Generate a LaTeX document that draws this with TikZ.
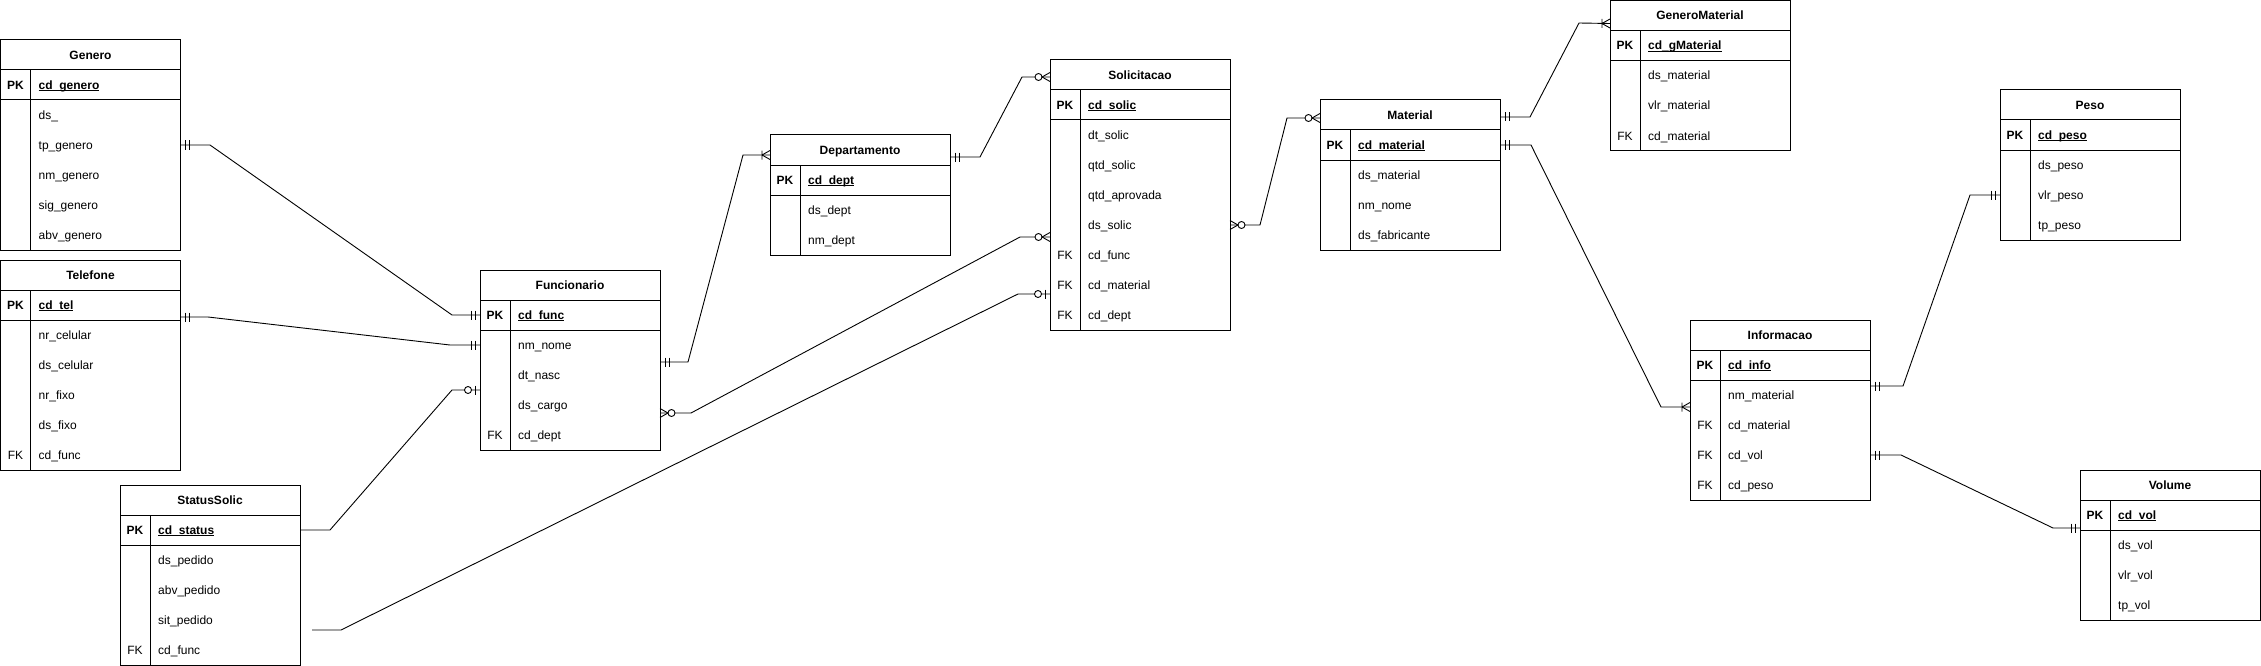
\documentclass[tikz,border=0pt]{standalone}
\usepackage{fontspec}
\setmainfont{Liberation Sans}
\usetikzlibrary{calc}
\newcommand{\pkul}[1]{\setbox0\hbox{#1}\rlap{\rule[-1.7pt]{\wd0}{0.8pt}}\box0}
\tikzset{
  tbl/.style={draw, line width=1pt, inner sep=0pt, outer sep=0pt, minimum width=180},
  tline/.style={line width=1pt},
  ttl/.style={anchor=base, inner sep=0pt, font=\fontsize{12}{14}\selectfont\bfseries},
  keyb/.style={anchor=base, inner sep=0pt, font=\fontsize{12}{14}\selectfont\bfseries},
  keyn/.style={anchor=base, inner sep=0pt, font=\fontsize{12}{14}\selectfont},
  fldb/.style={anchor=base west, inner sep=0pt, font=\fontsize{12}{14}\selectfont\bfseries},
  fldn/.style={anchor=base west, inner sep=0pt, font=\fontsize{12}{14}\selectfont},
  conn/.style={line width=0.9pt},
  mk/.style={line width=0.9pt}
}
% #1 name, #2 x, #3 y, #4 rows, #5 title, #6 pk field, #7 rows key/field
\newcommand{\ertable}[7]{%
\begin{scope}[shift={(#2,#3)}]
\node[tbl, minimum height={60+30*#4}, anchor=north west] (#1) at (0,0) {};
\draw[tline] (0,30) -- (180,30) (0,60) -- (180,60) (30,30) -- (30,{60+30*#4});
\node[ttl] at (90,19.5) {#5};
\node[keyb] at (15,49.5) {PK};
\node[fldb] at (38,49.5) {\pkul{#6}};
\coordinate (#1-0) at (0,45);
\foreach [count=\i] \ky/\fd in {#7} {
  \node[keyn] at (15,{45+30*\i+4.5}) {\ky};
  \node[fldn] at (38,{45+30*\i+4.5}) {\fd};
  \coordinate (#1-\i) at (0,{45+30*\i});
}
\end{scope}}
\newcommand{\mkmandone}[2]{\begin{scope}[shift={(#1)},xscale=#2]\draw[mk] (5,-4.5)--(5,4.5) (9,-4.5)--(9,4.5);\end{scope}}
\newcommand{\mkonemany}[2]{\begin{scope}[shift={(#1)},xscale=#2]\draw[mk] (8,-4.5)--(8,4.5) (8,0)--(0,-4.5) (8,0)--(0,4.5);\end{scope}}
\newcommand{\mkzeromany}[2]{\begin{scope}[shift={(#1)},xscale=#2]\draw[mk] (8,0)--(0,-4.5) (8,0)--(0,4.5);\draw[mk,fill=white] (11.5,0) circle [radius=3.5pt];\end{scope}}
\newcommand{\mkzeroone}[2]{\begin{scope}[shift={(#1)},xscale=#2]\draw[mk] (5,-4.5)--(5,4.5);\draw[mk,fill=white] (12,0) circle [radius=3.5pt];\end{scope}}
\begin{document}
\begin{tikzpicture}[x=1pt,y=-1pt]
\fill[white] (0,0) rectangle (2261,666);
\useasboundingbox (0,0) rectangle (2261,666);

\ertable{gen}{0.5}{40}{5}{Genero}{cd\_genero}{/ds\_, /tp\_genero, /nm\_genero, /sig\_genero, /abv\_genero}
\ertable{tel}{0.5}{260}{5}{Telefone}{cd\_tel}{/nr\_celular, /ds\_celular, /nr\_fixo, /ds\_fixo, FK/cd\_func}
\ertable{sts}{120}{485}{4}{StatusSolic}{cd\_status}{/ds\_pedido, /abv\_pedido, /sit\_pedido, FK/cd\_func}
\ertable{fun}{480}{270}{4}{Funcionario}{cd\_func}{/nm\_nome, /dt\_nasc, /ds\_cargo, FK/cd\_dept}
\ertable{dep}{770}{135}{2}{Departamento}{cd\_dept}{/ds\_dept, /nm\_dept}
\ertable{sol}{1050}{60}{7}{Solicitacao}{cd\_solic}{/dt\_solic, /qtd\_solic, /qtd\_aprovada, /ds\_solic, FK/cd\_func, FK/cd\_material, FK/cd\_dept}
\ertable{mat}{1320}{100}{3}{Material}{cd\_material}{/ds\_material, /nm\_nome, /ds\_fabricante}
\ertable{gm}{1610}{0.5}{3}{GeneroMaterial}{cd\_gMaterial}{/ds\_material, /vlr\_material, FK/cd\_material}
\ertable{peso}{2000}{90}{3}{Peso}{cd\_peso}{/ds\_peso, /vlr\_peso, /tp\_peso}
\ertable{inf}{1690}{320}{4}{Informacao}{cd\_info}{/nm\_material, FK/cd\_material, FK/cd\_vol, FK/cd\_peso}
\ertable{vol}{2080}{470}{3}{Volume}{cd\_vol}{/ds\_vol, /vlr\_vol, /tp\_vol}

% connector end points
\coordinate (e1a) at (gen-2 -| gen.east);
\coordinate (e1b) at (fun-0 -| fun.west);
\coordinate (e2a) at ($(tel.north east)+(0,57)$);
\coordinate (e2b) at (fun-1 -| fun.west);
\coordinate (e3a) at ($(fun.north west)+(0,120)$);
\coordinate (e3b) at (sts-0 -| sts.east);
\coordinate (dang) at (312,630);
\coordinate (e4b) at ($(sol.north west)+(0,234)$);
\coordinate (e5a) at ($(fun.north east)+(0,143)$);
\coordinate (e5b) at ($(sol.north west)+(0,177)$);
\coordinate (e6a) at ($(fun.north east)+(0,92)$);
\coordinate (e6b) at ($(dep.north west)+(0,20)$);
\coordinate (e7a) at ($(dep.north east)+(0,22)$);
\coordinate (e7b) at ($(sol.north west)+(0,17)$);
\coordinate (e8a) at (sol-4 -| sol.east);
\coordinate (e8b) at ($(mat.north west)+(0,18)$);
\coordinate (e9a) at ($(mat.north east)+(0,17)$);
\coordinate (e9b) at ($(gm.north west)+(0,23)$);
\coordinate (e10a) at (mat-0 -| mat.east);
\coordinate (e10b) at ($(inf.north west)+(0,87)$);
\coordinate (e11a) at ($(inf.north east)+(0,66)$);
\coordinate (e11b) at (peso-2 -| peso.west);
\coordinate (e12a) at (inf-3 -| inf.east);
\coordinate (e12b) at ($(vol.north west)+(0,58)$);

% connectors
\draw[conn] (e1a) -- (210,145) -- (452,315) -- (e1b);
\draw[conn] (e2a) -- (208,317) -- (450,345) -- (e2b);
\draw[conn] (e3a) -- (452,390) -- (330,530) -- (e3b);
\draw[conn] (dang) -- (341,630) -- (1018,294) -- (e4b);
\draw[conn] (e5a) -- (691,413) -- (1020,237) -- (e5b);
\draw[conn] (e6a) -- (688,362) -- (743,155) -- (e6b);
\draw[conn] (e7a) -- (980,157) -- (1022,77) -- (e7b);
\draw[conn] (e8a) -- (1260,225) -- (1287,118) -- (e8b);
\draw[conn] (e9a) -- (1530,117) -- (1579,23) -- (e9b);
\draw[conn] (e10a) -- (1531,145) -- (1661,407) -- (e10b);
\draw[conn] (e11a) -- (1903,386) -- (1970,195) -- (e11b);
\draw[conn] (e12a) -- (1901,455) -- (2053,528) -- (e12b);

% markers
\mkmandone{e1a}{1} \mkmandone{e1b}{-1}
\mkmandone{e2a}{1} \mkmandone{e2b}{-1}
\mkzeroone{e3a}{-1}
\mkzeroone{e4b}{-1}
\mkzeromany{e5a}{1} \mkzeromany{e5b}{-1}
\mkmandone{e6a}{1} \mkonemany{e6b}{-1}
\mkmandone{e7a}{1} \mkzeromany{e7b}{-1}
\mkzeromany{e8a}{1} \mkzeromany{e8b}{-1}
\mkmandone{e9a}{1} \mkonemany{e9b}{-1}
\mkmandone{e10a}{1} \mkonemany{e10b}{-1}
\mkmandone{e11a}{1} \mkmandone{e11b}{-1}
\mkmandone{e12a}{1} \mkmandone{e12b}{-1}
\end{tikzpicture}
\end{document}
